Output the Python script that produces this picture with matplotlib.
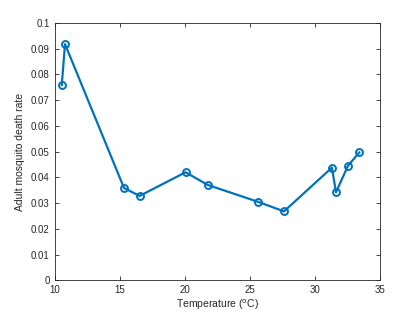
import matplotlib
matplotlib.use("Agg")
import matplotlib.pyplot as plt

temperature = [10.55, 10.8, 15.33, 16.53, 20.06, 21.75, 25.63, 27.62, 31.3, 31.61, 32.53, 33.4]
death_rate = [0.0759, 0.0918, 0.0359, 0.0328, 0.0420, 0.0371, 0.0305, 0.0268, 0.0438, 0.0342, 0.0445, 0.0497]
xticks = [10, 15, 20, 25, 30, 35]
yticks = [0, 0.01, 0.02, 0.03, 0.04, 0.05, 0.06, 0.07, 0.08, 0.09, 0.1]
ytick_labels = ["0", "0.01", "0.02", "0.03", "0.04", "0.05", "0.06", "0.07", "0.08", "0.09", "0.1"]

plt.rcParams['font.family'] = ['Liberation Sans', 'DejaVu Sans']
fig = plt.figure(figsize=(4.2, 3.15), dpi=100)
ax = fig.add_axes([0.13, 0.11, 0.775, 0.817])
ax.plot(temperature, death_rate, color='#0072BD', linewidth=1.6, marker='o',
        markersize=5, markerfacecolor='none', markeredgewidth=1.4)
ax.set_xlim(10, 35)
ax.set_ylim(0, 0.1)
ax.set_xticks(xticks)
ax.set_yticks(yticks)
ax.set_yticklabels(ytick_labels)
ax.tick_params(direction='in', length=3, width=0.6, colors='#262626', labelsize=7,
               top=True, right=True, pad=3.5)
for s in ax.spines.values():
    s.set_color('#262626')
    s.set_linewidth(0.6)
ax.set_xlabel('Temperature ($^{\\mathrm{o}}$C)', fontsize=7.5, color='#262626', labelpad=2)
ax.set_ylabel('Adult mosquito death rate', fontsize=7.5, color='#262626', labelpad=4)
fig.savefig('out.png', dpi=100)
